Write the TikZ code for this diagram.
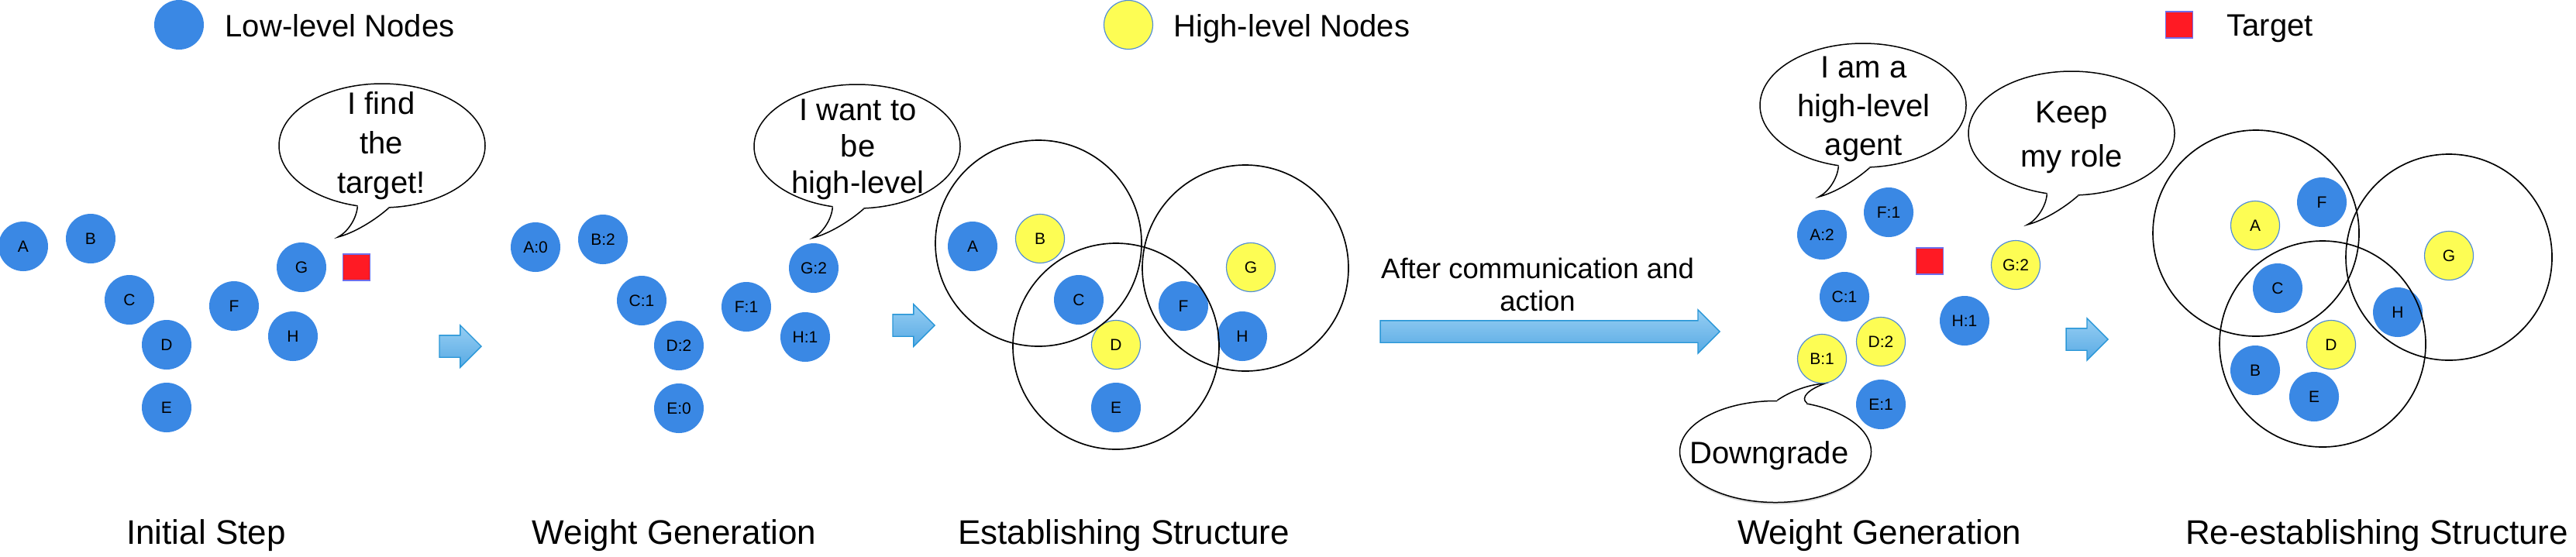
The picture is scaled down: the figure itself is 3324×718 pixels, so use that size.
\documentclass[tikz,border=0pt]{standalone}
\usepackage{fontspec}
\setmainfont{Liberation Sans}
\usetikzlibrary{shapes.geometric,shapes.arrows,calc,shadows}
\definecolor{lowblue}{RGB}{58,136,228}
\definecolor{hiyellow}{RGB}{253,253,84}
\definecolor{hiborder}{RGB}{80,140,215}
\definecolor{tgtred}{RGB}{255,26,36}
\definecolor{tgtborder}{RGB}{110,110,235}
\definecolor{arrtop}{RGB}{150,206,243}
\definecolor{arrbot}{RGB}{88,170,228}
\definecolor{arrborder}{RGB}{40,150,215}
\newcommand\fnode{\fontsize{6.3pt}{7.5pt}\selectfont}
\newcommand\fttl{\fontsize{13.2pt}{15pt}\selectfont}
\newcommand\fleg{\fontsize{12pt}{14pt}\selectfont}
\newcommand\farr{\fontsize{10.95pt}{12.6pt}\selectfont}
\newcommand\bubbletail[1]{%
  \fill[white] (#1.248) .. controls ($(#1.center)+(-33,-95)$) and ($(#1.center)+(-45,-112)$) .. ($(#1.center)+(-57,-118)$)
     .. controls ($(#1.center)+(-37,-113)$) and ($(#1.center)+(-10,-97)$) .. (#1.276) -- (#1.center) -- cycle;
  \draw[line width=0.45pt] (#1.248) .. controls ($(#1.center)+(-33,-95)$) and ($(#1.center)+(-45,-112)$) .. ($(#1.center)+(-57,-118)$)
     .. controls ($(#1.center)+(-37,-113)$) and ($(#1.center)+(-10,-97)$) .. (#1.276);}
\begin{document}
\begin{tikzpicture}[x=0.3pt,y=0.3pt,
  lo/.style={circle,fill=lowblue,minimum size=19.2pt,inner sep=0pt,font=\fnode},
  hi/.style={circle,fill=hiyellow,draw=hiborder,line width=0.35pt,minimum size=18.9pt,inner sep=0pt,font=\fnode},
  tgt/.style={rectangle,fill=tgtred,draw=tgtborder,line width=0.4pt,minimum width=10.5pt,minimum height=10.2pt,inner sep=0pt},
  cluster/.style={circle,draw=black,line width=0.5pt,minimum size=79.8pt,inner sep=0pt},
  bubble/.style={ellipse,draw=black,fill=white,line width=0.45pt,minimum width=79.8pt,minimum height=48pt,inner sep=0pt},
  bubbletext/.style={align=center,inner sep=0pt},
  blockarrow/.style={single arrow,draw=arrborder,line width=0.4pt,top color=arrtop,bottom color=arrbot,
     inner xsep=0pt,inner ysep=4.05pt,single arrow head extend=3.9pt,minimum height=16.2pt,anchor=tip},
  ttl/.style={font=\fttl,inner sep=0pt,anchor=base},
  legtext/.style={font=\fleg,inner sep=0pt,anchor=base west}]
\useasboundingbox (0,0) rectangle (3324,-718);

% legend
\node[lo] (leglo) at (231,-32) {};
\node[legtext] (leglot) at (290,-47) {Low-level Nodes};
\node[hi] (leghi) at (1456,-32) {};
\node[legtext] (leghit) at (1514,-47) {High-level Nodes};
\node[tgt] (legtgt) at (2812,-32) {};
\node[legtext] (legtgtt) at (2873,-46) {Target};

% speech bubbles
\node[bubble] (b1) at (493,-188) {};
\bubbletail{b1}
\node[bubbletext,font=\fontsize{12pt}{15.3pt}\selectfont] (b1t) at (492,-188) {I find\\the\\target!};

\node[bubble] (b2) at (1106,-189) {};
\bubbletail{b2}
\node[bubbletext,font=\fontsize{12pt}{14.1pt}\selectfont] (b2t) at (1107,-193) {I want to\\be\\high-level};

\node[bubble] (b3) at (2404,-136) {};
\bubbletail{b3}
\node[bubbletext,font=\fontsize{12pt}{15pt}\selectfont] (b3t) at (2405,-141) {I am a\\high-level\\agent};

\node[bubble] (b4) at (2673,-172) {};
\bubbletail{b4}
\node[bubbletext,font=\fontsize{12pt}{17.1pt}\selectfont] (b4t) at (2673,-177) {Keep\\my role};

\node[bubble,minimum width=74.1pt,minimum height=39.3pt,drop shadow={shadow xshift=0pt,shadow yshift=-0.8pt,opacity=0.3}] (b5) at (2291,-583) {};
\fill[white] (b5.88) .. controls (2310,-505) and (2335,-496) .. (2355,-495) .. controls (2335,-502) and (2322,-513) .. (b5.57) -- (b5.center) -- cycle;
\draw[line width=0.45pt] (b5.88) .. controls (2310,-505) and (2335,-496) .. (2355,-495) .. controls (2335,-502) and (2322,-513) .. (b5.57);
\node[bubbletext,font=\fontsize{12pt}{14pt}\selectfont,anchor=base] (b5t) at (2283,-598) {Downgrade};

% panel 1: initial step
\node[lo] (p1A) at (30,-318) {A};
\node[lo] (p1B) at (117,-308) {B};
\node[lo] (p1C) at (167,-387) {C};
\node[lo] (p1D) at (215,-445) {D};
\node[lo] (p1E) at (215,-526) {E};
\node[lo] (p1F) at (302,-395) {F};
\node[lo] (p1G) at (389,-345) {G};
\node[lo] (p1H) at (378,-434) {H};
\node[tgt] (p1T) at (460,-345) {};

% panel 2: weight generation
\node[lo] (p2A) at (691,-319) {A:0};
\node[lo] (p2B) at (778,-309) {B:2};
\node[lo] (p2C) at (828,-388) {C:1};
\node[lo] (p2D) at (876,-446) {D:2};
\node[lo] (p2E) at (876,-527) {E:0};
\node[lo] (p2F) at (963,-396) {F:1};
\node[lo] (p2G) at (1050,-346) {G:2};
\node[lo] (p2H) at (1039,-435) {H:1};

% panel 3: establishing structure
\node[lo] (p3A) at (1255,-318) {A};
\node[hi] (p3B) at (1342,-308) {B};
\node[lo] (p3C) at (1392,-387) {C};
\node[hi] (p3D) at (1440,-445) {D};
\node[lo] (p3E) at (1440,-526) {E};
\node[lo] (p3F) at (1527,-395) {F};
\node[hi] (p3G) at (1614,-345) {G};
\node[lo] (p3H) at (1603,-434) {H};
\node[cluster] (s31) at (1340,-314) {};
\node[cluster] (s32) at (1440,-447) {};
\node[cluster] (s33) at (1607,-346) {};

% panel 4: weight generation after communication
\node[lo] (p4A) at (2351,-303) {A:2};
\node[lo] (p4F) at (2437,-274) {F:1};
\node[hi] (p4G) at (2601,-342) {G:2};
\node[lo] (p4C) at (2380,-383) {C:1};
\node[lo] (p4H) at (2535,-414) {H:1};
\node[hi] (p4D) at (2427,-441) {D:2};
\node[hi] (p4B) at (2351,-463) {B:1};
\node[lo] (p4E) at (2427,-522) {E:1};
\node[tgt] (p4T) at (2490,-337) {};

% panel 5: re-establishing structure
\node[hi] (p5A) at (2910,-291) {A};
\node[lo] (p5F) at (2996,-261) {F};
\node[lo] (p5C) at (2939,-372) {C};
\node[hi] (p5G) at (3160,-330) {G};
\node[lo] (p5H) at (3094,-403) {H};
\node[hi] (p5D) at (3008,-445) {D};
\node[lo] (p5B) at (2910,-478) {B};
\node[lo] (p5E) at (2986,-512) {E};
\node[cluster] (s51) at (2911,-301) {};
\node[cluster] (s52) at (2997,-444) {};
\node[cluster] (s53) at (3160,-332) {};

% block arrows
\node[blockarrow] (ar1) at (622,-447) {};
\node[blockarrow] (ar2) at (1207,-420) {};
\node[blockarrow,minimum height=131.4pt,single arrow head extend=4.2pt] (ar3) at (2220,-428) {};
\node[blockarrow] (ar4) at (2721,-438) {};
\node[bubbletext,font=\farr] (ar3t) at (1984,-367) {After communication and\\action};

% titles
\node[ttl] (t1) at (266,-702) {Initial Step};
\node[ttl] (t2) at (870,-702) {Weight Generation};
\node[ttl] (t3) at (1450,-702) {Establishing Structure};
\node[ttl] (t4) at (2425,-702) {Weight Generation};
\node[ttl] (t5) at (3067,-702) {Re-establishing Structure};
\end{tikzpicture}
\end{document}
